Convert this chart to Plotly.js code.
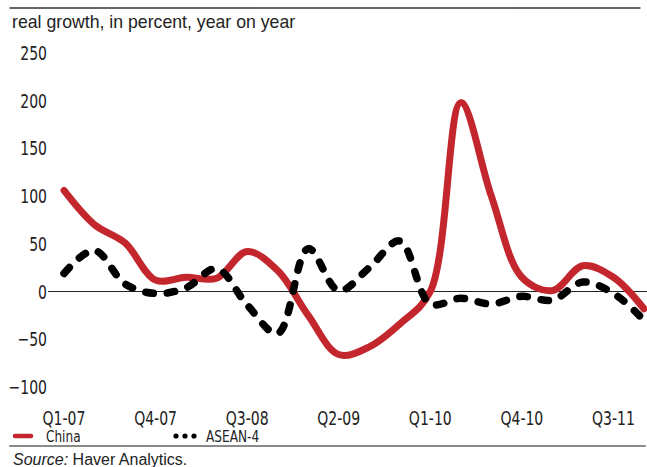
<!DOCTYPE html>
<html>
<head>
<meta charset="utf-8">
<script src="https://cdn.plot.ly/plotly-3.0.1.min.js"></script>
<style>
  html, body { margin: 0; padding: 0; background: #fff; }
  #chart { width: 647px; height: 467px; }
</style>
</head>
<body>
<div id="chart"></div>
<script>
// Quarterly real growth, percent year on year
const quarters = ['Q1-07','Q2-07','Q3-07','Q4-07','Q1-08','Q2-08','Q3-08','Q4-08',
                  'Q1-09','Q2-09','Q3-09','Q4-09','Q1-10','Q2-10','Q3-10','Q4-10',
                  'Q1-11','Q2-11','Q3-11','Q4-11'];
const china = [106, 70, 51, 12, 15, 14, 42, 22, -25, -66, -58, -34, 0, 198, 100, 15, 1, 27, 15, -18];
const asean = [19, 43, 8, -2, 4, 24, -14, -44, 45, 1, 25, 53, -13, -7, -13, -5, -9, 10, -2, -30];
const tickQuarters = ['Q1-07','Q4-07','Q3-08','Q2-09','Q1-10','Q4-10','Q3-11'];
const yTicks = [-100, -50, 0, 50, 100, 150, 200, 250];
const seriesNames = ['China', 'ASEAN-4'];

const RED = '#c4262e';
const NARROW = "'DejaVu Sans Condensed', 'DejaVu Sans', sans-serif";
const SANS = "'Liberation Sans', Arial, sans-serif";
const TICK_SQUEEZE = 0.78;   // horizontal squeeze for the tall, narrow axis numerals
const LEGEND_SQUEEZE = 0.9;

// page geometry (pixels) used to place the decorations around the plot
const W = 647, H = 467, ML = 48, MR = 0, MT = 53, MB = 80;
const PW = W - ML - MR, PH = H - MT - MB;
const px = x => (x - ML) / PW;
const py = y => (H - MB - y) / PH;

const traces = [
  {
    x: quarters, y: china, name: seriesNames[0], type: 'scatter', mode: 'lines',
    line: { color: RED, width: 7, shape: 'spline', smoothing: 1 }
  },
  {
    x: quarters, y: asean, name: seriesNames[1], type: 'scatter', mode: 'lines',
    line: { color: '#000', width: 7.5, shape: 'spline', smoothing: 1, dash: '7.5px,14px' }
  }
];

// hand-made legend markers below the axis
const legendY = 436;
const dotR = 2.6;
const shapes = [
  { type: 'line', xref: 'paper', yref: 'paper', x0: px(10), x1: px(640), y0: py(8), y1: py(8),
    line: { color: '#333', width: 1.3 } },
  { type: 'line', xref: 'paper', yref: 'paper', x0: px(10), x1: px(645), y0: py(446), y1: py(446),
    line: { color: '#8a8a8a', width: 2 } },
  { type: 'line', xref: 'paper', yref: 'paper', x0: px(15), x1: px(31), y0: py(legendY), y1: py(legendY),
    line: { color: RED, width: 4.5 } }
];
[176, 185, 194].forEach(cx => {
  shapes.push({ type: 'circle', xref: 'paper', yref: 'paper',
    x0: px(cx - dotR), x1: px(cx + dotR), y0: py(legendY + dotR), y1: py(legendY - dotR),
    fillcolor: '#000', line: { width: 0 } });
});

const annotations = [
  { text: seriesNames[0], xref: 'paper', yref: 'paper', x: px(42), y: py(437),
    xanchor: 'left', yanchor: 'middle', showarrow: false,
    font: { family: NARROW, size: 15, color: '#222' } },
  { text: seriesNames[1], xref: 'paper', yref: 'paper', x: px(201), y: py(437),
    xanchor: 'left', yanchor: 'middle', showarrow: false,
    font: { family: NARROW, size: 15, color: '#222' } },
  { text: '<i>Source:</i> Haver Analytics.', xref: 'paper', yref: 'paper', x: px(11), y: py(460),
    xanchor: 'left', yanchor: 'middle', showarrow: false,
    font: { family: SANS, size: 16, color: '#222' } }
];

const layout = {
  width: W, height: H, autosize: false,
  margin: { l: ML, r: MR, t: MT, b: MB, pad: 0 },
  paper_bgcolor: '#fff', plot_bgcolor: '#fff',
  showlegend: false,
  title: {
    text: 'real growth, in percent, year on year',
    xref: 'container', yref: 'container', x: 12 / W, y: 1 - 22 / H,
    xanchor: 'left', yanchor: 'middle',
    font: { family: SANS, size: 17.7, color: '#222' }
  },
  xaxis: {
    type: 'category', range: [-0.525, 19.1],
    tickmode: 'array', tickvals: tickQuarters, ticktext: tickQuarters,
    showgrid: false, zeroline: false, showline: false, ticks: '',
    ticklabelstandoff: 17,
    tickfont: { family: NARROW, size: 20, color: '#222' }
  },
  yaxis: {
    range: [-100, 250], tickmode: 'array', tickvals: yTicks,
    showgrid: false, showline: false, ticks: '',
    zeroline: true, zerolinecolor: '#222', zerolinewidth: 1,
    tickfont: { family: NARROW, size: 20, color: '#222' }
  },
  shapes: shapes,
  annotations: annotations
};

// squeeze a text element horizontally around its own anchor point
function squeeze(el, s) {
  const x = parseFloat(el.getAttribute('x')) || 0;
  const tr = el.getAttribute('transform') || '';
  el.setAttribute('transform', `${tr} translate(${x},0) scale(${s},1) translate(${-x},0)`);
}

Plotly.newPlot('chart', traces, layout, { staticPlot: true, displayModeBar: false }).then(gd => {
  // rounded ends give the dashes their pill shape
  gd.querySelectorAll('.scatterlayer .js-line, .shapelayer path').forEach(p => {
    p.style.strokeLinecap = 'round';
    p.style.strokeLinejoin = 'round';
  });
  gd.querySelectorAll('.xtick text, .ytick text').forEach(t => squeeze(t, TICK_SQUEEZE));
  gd.querySelectorAll('.annotation-text').forEach(t => {
    if (seriesNames.includes(t.textContent)) squeeze(t, LEGEND_SQUEEZE);
  });
});
</script>
</body>
</html>
